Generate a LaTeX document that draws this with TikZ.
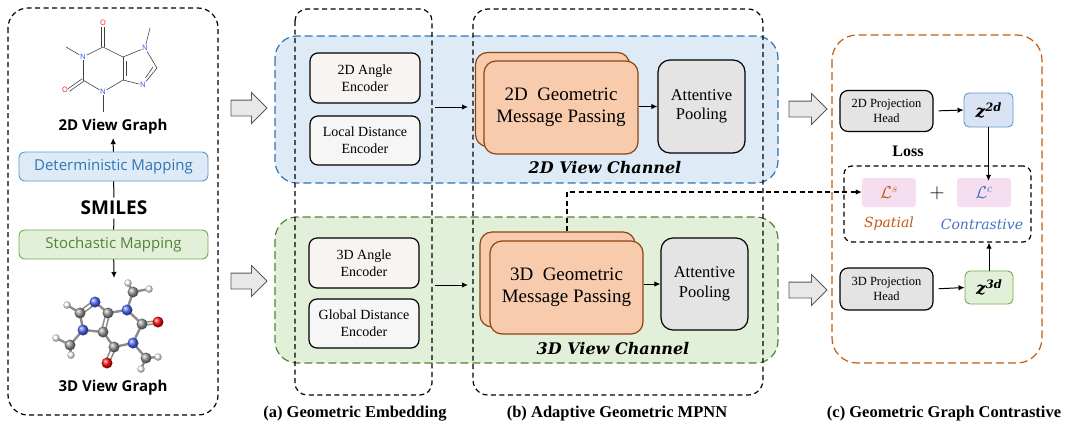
\documentclass[tikz,border=0pt]{standalone}
\usepackage{amsmath}
\usepackage{fontspec}
\setmainfont{Liberation Serif}
\newfontfamily\uisans{Open Sans}
\newfontfamily\cambr{DejaVu Serif}
\usetikzlibrary{arrows.meta,shapes.arrows}
\definecolor{bluefill}{HTML}{DEEBF7}
\definecolor{blueline}{HTML}{2E75B6}
\definecolor{bluelite}{HTML}{5B9BD5}
\definecolor{greenfill}{HTML}{E2F0D9}
\definecolor{greenline}{HTML}{548235}
\definecolor{greenlite}{HTML}{70AD47}
\definecolor{orangeln}{HTML}{C55A11}
\definecolor{mpfill}{HTML}{F8CBAD}
\definecolor{mpline}{HTML}{8B4513}
\definecolor{encA}{HTML}{F8F4F2}
\definecolor{encB}{HTML}{F6F6F6}
\definecolor{grayfill}{HTML}{E4E4E4}
\definecolor{lfill}{HTML}{F4DEEF}
\definecolor{cblue}{HTML}{4472C4}
\definecolor{zblue}{HTML}{DAE3F3}
\definecolor{atomN}{HTML}{3050F8}
\definecolor{atomO}{HTML}{FF0D0D}
\newcommand{\zvec}[1]{{\cambr\bfseries\itshape z\raisebox{6pt}{\fontsize{11.5}{11.5}\selectfont #1}}}
\tikzset{
  dsh/.style={dash pattern=on 5pt off 3.5pt, line width=1.2pt},
  arr/.style={-{Latex[length=6pt,width=5.5pt]}, line width=1pt},
  encbox/.style={draw=black, line width=1.2pt, rounded corners=8pt, minimum width=110pt, minimum height=50pt, inner sep=1pt, align=center, font=\fontsize{14}{16.7}\selectfont},
  mpbox/.style={draw=mpline, fill=mpfill, line width=1.2pt, rounded corners=12pt, minimum width=154pt, minimum height=94pt, align=center, font=\fontsize{19}{21.7}\selectfont},
  apbox/.style={draw=black, fill=grayfill, line width=1.2pt, rounded corners=12pt, minimum width=87pt, minimum height=93pt, align=center, font=\fontsize{16.5}{19.5}\selectfont},
  phbox/.style={draw=black, fill=grayfill, line width=1.2pt, rounded corners=8pt, minimum width=93pt, minimum height=41pt, align=center, font=\fontsize{12.5}{14.3}\selectfont},
  zbox/.style={line width=0.9pt, rounded corners=5pt, minimum width=49pt, minimum height=34pt, inner sep=0pt, font=\fontsize{17}{17}\selectfont},
  lbox/.style={fill=lfill, rounded corners=3pt, minimum width=54pt, minimum height=29pt, font=\fontsize{17}{17}\selectfont},
  mapbox/.style={line width=0.9pt, rounded corners=6pt, minimum width=189pt, minimum height=29pt, font=\uisans\fontsize{15}{15}\selectfont},
  blockarr/.style={single arrow, draw=black!65, fill=black!9, line width=0.9pt, inner xsep=0pt, inner ysep=7.5pt, single arrow head extend=7.5pt},
  chan/.style={font=\cambr\bfseries\itshape\fontsize{16}{16}\selectfont},
  captxt/.style={font=\bfseries\fontsize{16.5}{16.5}\selectfont},
  lbl/.style={inner sep=0.6pt, fill=white, font=\uisans\fontsize{7.5}{7.5}\selectfont},
  bond/.style={line width=0.6pt, draw=black!75},
  stick/.style={line width=2.4pt, draw=black!45},
  dstick/.style={line width=1.5pt, draw=black!45},
  ball/.style={circle, inner sep=0pt, shading=ball, minimum size=11pt},
  hball/.style={circle, inner sep=0pt, shading=ball, ball color=white, minimum size=7.5pt},
}
\begin{document}
\begin{tikzpicture}[x=1pt,y=-1pt]
\useasboundingbox (0,0) rectangle (1065,424);

% ---------- channel regions ----------
\path[draw=blueline, fill=bluefill, dsh, dash pattern=on 8pt off 4pt, rounded corners=22pt] (275,36) rectangle (778,183);
\path[draw=greenline, fill=greenfill, dsh, dash pattern=on 8pt off 4pt, rounded corners=22pt] (275,217) rectangle (778,363);

% ---------- panel frames ----------
\draw[dsh, rounded corners=20pt] (8,8) rectangle (218,415);
\draw[dsh, rounded corners=12pt] (295,9) rectangle (432,395);
\draw[dsh, rounded corners=15pt] (473,9) rectangle (763,395);
\draw[dsh, draw=orangeln, dash pattern=on 8pt off 4pt, rounded corners=25pt] (832,35) rectangle (1042,363);

% ---------- left panel ----------
\node[font=\uisans\bfseries\fontsize{15}{15}\selectfont] (g2) at (113,127) {2D View Graph};
\node[font=\uisans\bfseries\fontsize{19}{19}\selectfont] (smiles) at (114,208) {SMILES};
\node[mapbox, draw=bluelite, fill=bluefill, text=blueline] (det) at (113.5,166.5) {Deterministic Mapping};
\node[mapbox, draw=greenlite, fill=greenfill, text=greenline] (sto) at (113.5,244.5) {Stochastic Mapping};
\node[font=\uisans\bfseries\fontsize{15}{15}\selectfont] (g3) at (113,388) {3D View Graph};
\coordinate (m3top) at (114,278);
\draw[line width=1pt] (smiles) -- (det);
\draw[arr] (det) -- (g2);
\draw[line width=1pt] (smiles) -- (sto);
\draw[arr] (sto) -- (m3top);

% 2D molecule (caffeine)
\node[lbl, text=atomO] (o6) at (103,23) {O};
\coordinate (c6) at (103,47);
\node[lbl, text=atomN] (n1) at (83,57) {N};
\coordinate (me1) at (66,47);
\coordinate (c2) at (83,80);
\node[lbl, text=atomO] (o2) at (65,90) {O};
\node[lbl, text=atomN] (n3) at (103,92) {N};
\coordinate (me3) at (103,112);
\coordinate (c4) at (123,80);
\coordinate (c5) at (123,57);
\node[lbl, text=atomN] (n7) at (145,48) {N};
\coordinate (me7) at (150,28);
\coordinate (c8) at (157,68);
\node[lbl, text=atomN] (n9) at (143,85) {N};
\draw[bond] ([xshift=-1.4pt]c6) -- ([xshift=-1.4pt]o6.south);
\draw[bond] ([xshift=1.4pt]c6) -- ([xshift=1.4pt]o6.south);
\draw[bond] (c6) -- (n1);
\draw[bond] (n1) -- (me1);
\draw[bond] (n1) -- (c2);
\draw[bond] ([shift={(0.7,1.3)}]c2) -- ([shift={(0.7,1.3)}]o2.east);
\draw[bond] ([shift={(-0.7,-1.3)}]c2) -- ([shift={(-0.7,-1.3)}]o2.east);
\draw[bond] (c2) -- (n3);
\draw[bond] (n3) -- (me3);
\draw[bond] (n3) -- (c4);
\draw[bond] (c4) -- (c5);
\draw[bond] ([shift={(3.5,4)}]c5) -- ([shift={(3.5,-4)}]c4);
\draw[bond] (c5) -- (c6);
\draw[bond] (c5) -- (n7);
\draw[bond] (n7) -- (me7);
\draw[bond] (n7) -- (c8);
\draw[bond] (c8) -- (n9);
\draw[bond] ([shift={(-4.2,-0.8)}]c8) -- ([shift={(-1.2,-3.5)}]n9.north east);
\draw[bond] (n9) -- (c4);

% 3D molecule (ball and stick)
\coordinate (a1) at (95,302);   % N
\coordinate (a2) at (80,313);   % C8
\coordinate (a3) at (67,305);   % H
\coordinate (a4) at (83,330);   % N9
\coordinate (a5) at (70,345);   % Me C
\coordinate (a6) at (56,338);   % H
\coordinate (a7) at (71,355);   % H
\coordinate (a8) at (103,332);  % C5
\coordinate (a9) at (108,313);  % C4
\coordinate (a10) at (127,310); % N3
\coordinate (a11) at (133,292); % Me C
\coordinate (a12) at (128,283); % H
\coordinate (a13) at (149,289); % H
\coordinate (a14) at (142,324); % C2
\coordinate (a15) at (158,322); % O
\coordinate (a16) at (133,343); % N1
\coordinate (a17) at (146,358); % Me C
\coordinate (a18) at (158,357); % H
\coordinate (a19) at (141,369); % H
\coordinate (a20) at (114,347); % C6
\coordinate (a21) at (107,363); % O
\foreach \u/\v in {a1/a9,a2/a3,a2/a4,a4/a5,a5/a6,a5/a7,a4/a8,a9/a10,a10/a11,a11/a12,a11/a13,a10/a14,a14/a16,a16/a17,a17/a18,a17/a19,a16/a20,a20/a8}
  \draw[stick] (\u) -- (\v);
\foreach \u/\v in {a1/a2,a8/a9,a14/a15,a20/a21}{
  \draw[dstick] ([shift={(-1.6,-1.2)}]\u) -- ([shift={(-1.6,-1.2)}]\v);
  \draw[dstick] ([shift={(1.6,1.2)}]\u) -- ([shift={(1.6,1.2)}]\v);
}
\foreach \h in {a3,a6,a7,a12,a13,a18,a19}
  \node[hball] (b\h) at (\h) {};
\foreach \c in {a2,a5,a8,a9,a11,a14,a17,a20}
  \node[ball, ball color=black!40] (b\c) at (\c) {};
\foreach \n in {a1,a4,a10,a16}
  \node[ball, ball color=atomN!85] (b\n) at (\n) {};
\foreach \o in {a15,a21}
  \node[ball, ball color=atomO] (b\o) at (\o) {};

% ---------- block arrows ----------
\node[blockarr, minimum height=36pt] (ba1) at (245,108) {};
\node[blockarr, minimum height=36pt] (ba2) at (245,281) {};
\node[blockarr, minimum height=38pt] (ba3) at (804,109) {};
\node[blockarr, minimum height=38pt] (ba4) at (804,290) {};

% ---------- (a) geometric embedding ----------
\node[encbox, fill=encA] (ang2) at (365,78) {2D Angle\\Encoder};
\node[encbox, fill=encB, minimum height=49pt] (loc2) at (365,140.5) {Local Distance\\Encoder};
\node[encbox, fill=encA] (ang3) at (364,263) {3D Angle\\Encoder};
\node[encbox, fill=encB, minimum height=49pt] (glb3) at (364,323.5) {Global Distance\\Encoder};

% ---------- (b) MPNN ----------
\node[mpbox] (mp2b) at (552.5,99.5) {};
\node[mpbox, minimum height=93pt] (mp2) at (561,107.5) {2D\ \ Geometric\\Message Passing};
\node[apbox] (ap2) at (701.5,106.5) {Attentive\\Pooling};
\node[mpbox, minimum width=155pt, minimum height=95pt] (mp3b) at (557.5,279.5) {};
\node[mpbox, minimum width=153pt, minimum height=93pt] (mp3) at (566.5,287.5) {3D\ \ Geometric\\Message Passing};
\node[apbox, minimum height=92pt] (ap3) at (704.5,284) {Attentive\\Pooling};
\node[chan] (ch2) at (605,168) {2D View Channel};
\node[chan] (ch3) at (613,349) {3D View Channel};

\coordinate (e2s) at (435,107);
\coordinate (e2t) at (468,107);
\coordinate (e3s) at (435,285);
\coordinate (e3t) at (468,285);
\draw[arr] (e2s) -- (e2t);
\draw[arr] (e3s) -- (e3t);
\draw[arr] (mp2.east |- ap2.west) -- (ap2.west);
\draw[arr] (mp3.east |- ap3.west) -- (ap3.west);

% ---------- (c) contrastive ----------
\node[phbox] (ph2) at (886.5,111) {2D Projection\\Head};
\node[phbox, minimum height=42pt] (ph3) at (886.5,289) {3D Projection\\Head};
\node[zbox, draw=bluelite, fill=zblue] (z2) at (988.5,110) {\zvec{2d}};
\node[zbox, draw=greenlite, fill=greenfill, minimum width=48pt, minimum height=33pt] (z3) at (989,287.5) {\zvec{3d}};
\node[font=\bfseries\fontsize{16}{16}\selectfont] (loss) at (908,151) {Loss};
\node[draw=black, dsh, rounded corners=8pt, minimum width=187pt, minimum height=76pt] (lossbox) at (937.5,204) {};
\node[lbox, text=orangeln] (ls) at (889,192.5) {$\mathcal{L}^{s}$};
\node[lbox, text=cblue] (lc) at (984,192.5) {$\mathcal{L}^{c}$};
\node[font=\fontsize{20}{20}\selectfont] (plus) at (937,193) {$+$};
\node[text=orangeln, font=\cambr\itshape\fontsize{14}{14}\selectfont] (sp) at (889,224) {Spatial};
\node[text=cblue, font=\cambr\itshape\fontsize{14}{14}\selectfont] (ct) at (982,224) {Contrastive};

\draw[arr, shorten <=5pt] (ph2.east) -- (z2.west);
\draw[arr, shorten <=5pt] (ph3.east) -- (z3.west);
\draw[arr] (z2.south) -- ([yshift=-3pt]z2.south |- lc.north);
\draw[arr] (z3.north) -- (z3.north |- lossbox.south);

\coordinate (dc) at (567,192);
\draw[dsh, -{Latex[length=6pt,width=5.5pt]}] (mp3b.north -| dc) -- (dc) -- (ls.west |- dc);

% ---------- captions ----------
\node[captxt] (capa) at (355,414) {(a) Geometric Embedding};
\node[captxt] (capb) at (617,414) {(b) Adaptive Geometric MPNN};
\node[captxt] (capc) at (944,414) {(c) Geometric Graph Contrastive};
\end{tikzpicture}
\end{document}
